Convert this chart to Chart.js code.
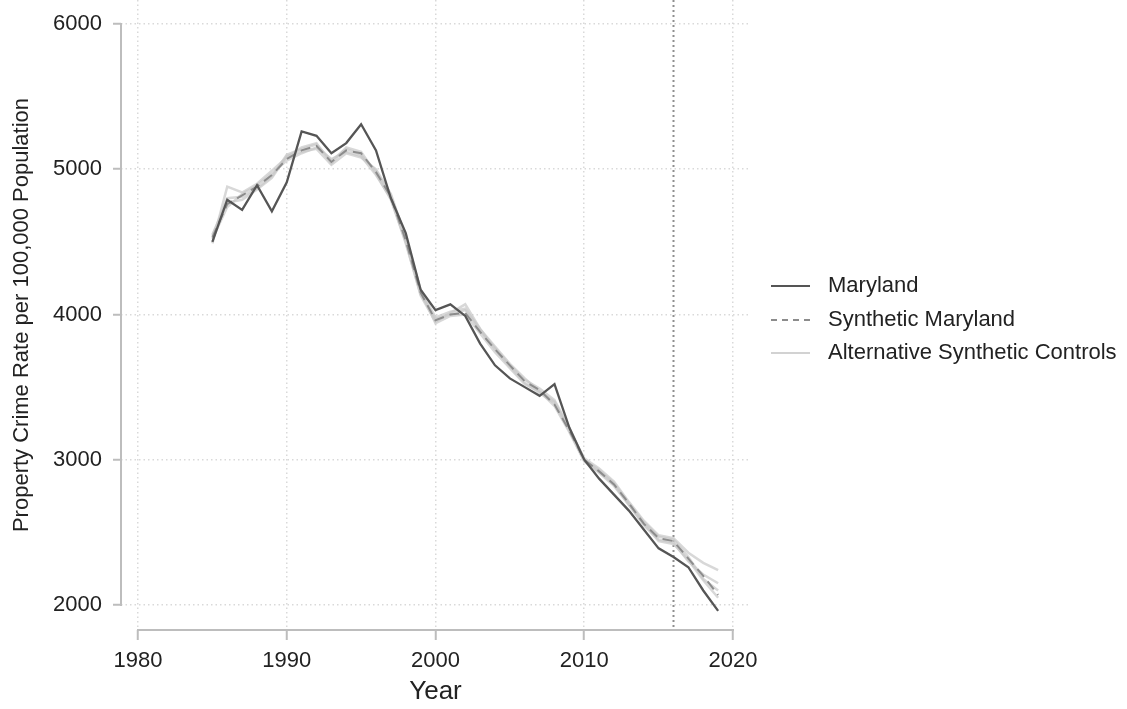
<!DOCTYPE html>
<html>
<head>
<meta charset="utf-8">
<script src="https://cdn.jsdelivr.net/npm/chart.js@4.4.1/dist/chart.umd.min.js"></script>
<style>
  html, body { margin: 0; padding: 0; background: #fff; }
  #wrap { position: relative; width: 1127px; height: 709px; overflow: hidden; }
  #legend { position: absolute; left: 771px; top: 268px; font-family: "Liberation Sans", Arial, sans-serif; font-size: 22px; color: #222; }
  .row { position: relative; height: 33.5px; line-height: 33.5px; white-space: nowrap; }
  .sample { position: absolute; left: 0; top: 17px; width: 39px; height: 0; }
  .label { position: absolute; left: 57px; top: 0; }
</style>
</head>
<body>
<div id="wrap">
  <canvas id="c" width="1127" height="709"></canvas>
  <div id="legend"></div>
</div>
<script>
const years = [1985,1986,1987,1988,1989,1990,1991,1992,1993,1994,1995,1996,1997,1998,1999,2000,2001,2002,2003,2004,2005,2006,2007,2008,2009,2010,2011,2012,2013,2014,2015,2016,2017,2018,2019];
const maryland = [4500,4790,4720,4890,4710,4910,5260,5230,5110,5180,5310,5130,4800,4560,4170,4030,4070,3990,3800,3650,3560,3500,3440,3520,3220,3000,2870,2760,2650,2520,2390,2330,2260,2100,1960];
const synthetic = [4530,4760,4820,4880,4960,5070,5130,5160,5050,5130,5110,4980,4810,4510,4150,3960,4000,4010,3880,3760,3650,3540,3480,3380,3200,3000,2920,2830,2700,2560,2460,2440,2320,2200,2070];
const alt1 = [4490,4880,4840,4900,4990,5080,5150,5180,5040,5150,5120,4970,4790,4500,4130,3950,4010,4070,3900,3780,3660,3560,3470,3400,3210,3010,2940,2850,2710,2580,2480,2460,2360,2290,2240];
const alt2 = [4540,4800,4810,4870,4950,5100,5140,5170,5060,5140,5100,4990,4820,4520,4160,3940,3990,4000,3870,3740,3630,3520,3470,3370,3190,2990,2910,2820,2690,2550,2450,2430,2300,2210,2150];
const alt3 = [4520,4740,4830,4890,4970,5060,5110,5150,5070,5120,5090,4960,4800,4490,4140,3970,4000,4030,3890,3770,3650,3550,3490,3410,3220,3000,2930,2840,2700,2570,2470,2450,2330,2180,2100];
const alt4 = [4550,4770,4790,4860,4940,5090,5120,5140,5030,5110,5080,5000,4830,4530,4170,3980,4020,4040,3900,3760,3640,3530,3460,3390,3200,2990,2920,2830,2690,2560,2440,2420,2310,2170,2050];
const xTicks = [1980,1990,2000,2010,2020];
const yTicks = [2000,3000,4000,5000,6000];
const refYear = 2016;
const legendLabels = ["Maryland", "Synthetic Maryland", "Alternative Synthetic Controls"];

const FONT = '"Liberation Sans", Arial, sans-serif';
const toPts = arr => arr.map((v, i) => ({x: years[i], y: v}));
const altStyle = {borderColor: 'rgba(200,200,200,0.7)', borderWidth: 2.5};

const datasets = [
  {label: legendLabels[0], data: toPts(maryland), borderColor: '#555555', borderWidth: 2.3},
  {label: legendLabels[1], data: toPts(synthetic), borderColor: '#8c8c8c', borderWidth: 2, borderDash: [10, 6]},
  {label: legendLabels[2], data: toPts(alt1), ...altStyle},
  {label: legendLabels[2], data: toPts(alt2), ...altStyle},
  {label: legendLabels[2], data: toPts(alt3), ...altStyle},
  {label: legendLabels[2], data: toPts(alt4), ...altStyle}
].map(d => Object.assign({pointRadius: 0, tension: 0, fill: false}, d));

const axisPlugin = {
  id: 'axisPlugin',
  beforeDatasetsDraw(chart) {
    const {ctx, scales: {x, y}, chartArea} = chart;
    ctx.save();
    ctx.strokeStyle = '#8f8f8f';
    ctx.lineWidth = 2;
    ctx.setLineDash([2, 3]);
    const rx = Math.round(x.getPixelForValue(refYear)) + 0.5;
    ctx.beginPath();
    ctx.moveTo(rx, chartArea.top);
    ctx.lineTo(rx, chartArea.bottom);
    ctx.stroke();
    ctx.setLineDash([]);
    ctx.strokeStyle = '#bdbdbd';
    ctx.lineWidth = 2;
    const ax = chartArea.left;
    ctx.beginPath();
    ctx.moveTo(ax, y.getPixelForValue(yTicks[0]) + 1);
    ctx.lineTo(ax, y.getPixelForValue(yTicks[yTicks.length - 1]) - 1);
    ctx.stroke();
    const ay = chartArea.bottom;
    ctx.beginPath();
    ctx.moveTo(x.getPixelForValue(xTicks[0]) - 1, ay);
    ctx.lineTo(x.getPixelForValue(xTicks[xTicks.length - 1]) + 1, ay);
    ctx.stroke();
    ctx.restore();
  }
};

new Chart(document.getElementById('c'), {
  type: 'line',
  data: {datasets},
  plugins: [axisPlugin],
  options: {
    responsive: false,
    animation: false,
    events: [],
    layout: {padding: {top: 0, right: 377, left: 0, bottom: 0}},
    plugins: {legend: {display: false}, tooltip: {enabled: false}},
    scales: {
      x: {
        type: 'linear',
        min: 1978.857,
        max: 2021.143,
        afterFit: s => { s.height = 79; s.paddingLeft = 0; s.paddingRight = 0; },
        afterBuildTicks: s => { s.ticks = xTicks.map(v => ({value: v})); },
        grid: {color: '#d9d9d9', lineWidth: 1.5, drawTicks: true, tickLength: 10, tickColor: '#bdbdbd', tickWidth: 2},
        border: {display: false, dash: [1.5, 3]},
        ticks: {color: '#222', font: {family: FONT, size: 22}, padding: 8, maxRotation: 0, callback: v => String(v)},
        title: {display: true, text: 'Year', color: '#222', font: {family: FONT, size: 26}, padding: {top: 0, bottom: 2}}
      },
      y: {
        type: 'linear',
        min: 1828,
        max: 6165,
        afterFit: s => { s.width = 121; s.paddingTop = 0; s.paddingBottom = 0; },
        afterBuildTicks: s => { s.ticks = yTicks.map(v => ({value: v})); },
        grid: {color: '#d9d9d9', lineWidth: 1.5, drawTicks: true, tickLength: 8, tickColor: '#bdbdbd', tickWidth: 2},
        border: {display: false, dash: [1.5, 3]},
        ticks: {color: '#222', font: {family: FONT, size: 22}, padding: 11, callback: v => String(v)},
        title: {display: true, text: 'Property Crime Rate per 100,000 Population', color: '#222', font: {family: FONT, size: 22}, padding: {top: 9, bottom: 0}}
      }
    }
  }
});

const legend = document.getElementById('legend');
const samples = [
  'border-top: 2px solid #555555;',
  'border-top: 2px dashed #8c8c8c;',
  'border-top: 2px solid #d2d2d2;'
];
legendLabels.forEach((t, i) => {
  const row = document.createElement('div');
  row.className = 'row';
  const s = document.createElement('div');
  s.className = 'sample';
  s.style.cssText = samples[i];
  const l = document.createElement('div');
  l.className = 'label';
  l.textContent = t;
  row.appendChild(s); row.appendChild(l);
  legend.appendChild(row);
});
</script>
</body>
</html>
